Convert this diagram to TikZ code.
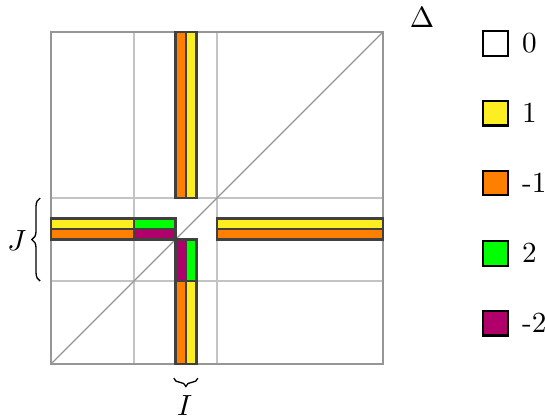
\documentclass[tikz,border=0pt]{standalone}
\usetikzlibrary{decorations.pathreplacing}
\definecolor{cyel}{RGB}{252,238,33}
\definecolor{corg}{RGB}{255,128,0}
\definecolor{cgrn}{RGB}{0,255,0}
\definecolor{cpur}{RGB}{176,0,106}
\definecolor{lgray}{RGB}{196,196,196}
\definecolor{mgray}{RGB}{150,150,150}
\definecolor{dgray}{RGB}{64,64,64}
\begin{document}
\begin{tikzpicture}[
  band/.style={draw=lgray, line width=0.85pt},
  frame/.style={draw=mgray, line width=0.6pt},
  diag/.style={draw=mgray, line width=0.45pt},
  strip/.style={draw=dgray, line width=0.9pt},
  legbox/.style={draw=black, line width=0.7pt, minimum size=0.3cm, inner sep=0pt},
  leglab/.style={anchor=west, inner sep=0pt},
  bracestyle/.style={decorate, decoration={brace, amplitude=0.1cm}, line width=0.45pt}
]
\useasboundingbox (-0.614,-0.651) rectangle (5.952,4.386);
% light grey bands
\draw[band] (1,0) rectangle (2,4);
\draw[band] (0,1) rectangle (4,2);
% frame and diagonal
\draw[frame] (0,0) rectangle (4,4);
\draw[diag] (0,0) -- (4,4);
% vertical strip, upper part
\filldraw[strip, fill=corg] (1.5,2) rectangle (1.625,4);
\filldraw[strip, fill=cyel] (1.625,2) rectangle (1.75,4);
% vertical strip, lower part
\filldraw[strip, fill=corg] (1.5,0) rectangle (1.625,1);
\filldraw[strip, fill=cyel] (1.625,0) rectangle (1.75,1);
\filldraw[strip, fill=cpur] (1.5,1) rectangle (1.625,1.5);
\filldraw[strip, fill=cgrn] (1.625,1) rectangle (1.75,1.5);
% horizontal strip, left part
\filldraw[strip, fill=cyel] (0,1.625) rectangle (1,1.75);
\filldraw[strip, fill=corg] (0,1.5) rectangle (1,1.625);
\filldraw[strip, fill=cgrn] (1,1.625) rectangle (1.5,1.75);
\filldraw[strip, fill=cpur] (1,1.5) rectangle (1.5,1.625);
% horizontal strip, right part
\filldraw[strip, fill=cyel] (2,1.625) rectangle (4,1.75);
\filldraw[strip, fill=corg] (2,1.5) rectangle (4,1.625);
% braces and labels
\coordinate (jb) at (-0.13,1);
\coordinate (jt) at (-0.13,2);
\draw[bracestyle] (jb) -- (jt);
\node (J) at (-0.41,1.49) {$J$};
\coordinate (ir) at (1.77,-0.17);
\coordinate (il) at (1.48,-0.17);
\draw[bracestyle] (ir) -- (il);
\node (I) at (1.61,-0.5) {$I$};
% legend
\node (delta) at (4.47,4.18) {$\Delta$};
\node[legbox, fill=white] (b0) at (5.355,3.867) {};
\node[legbox, fill=cyel] (b1) at (5.355,3.024) {};
\node[legbox, fill=corg] (bm1) at (5.355,2.181) {};
\node[legbox, fill=cgrn] (b2) at (5.355,1.337) {};
\node[legbox, fill=cpur] (bm2) at (5.355,0.494) {};
\node[leglab] (l0) at (5.67,3.867) {0};
\node[leglab] (l1) at (5.67,3.024) {1};
\node[leglab] (lm1) at (5.67,2.181) {-1};
\node[leglab] (l2) at (5.67,1.337) {2};
\node[leglab] (lm2) at (5.67,0.494) {-2};
\end{tikzpicture}
\end{document}
